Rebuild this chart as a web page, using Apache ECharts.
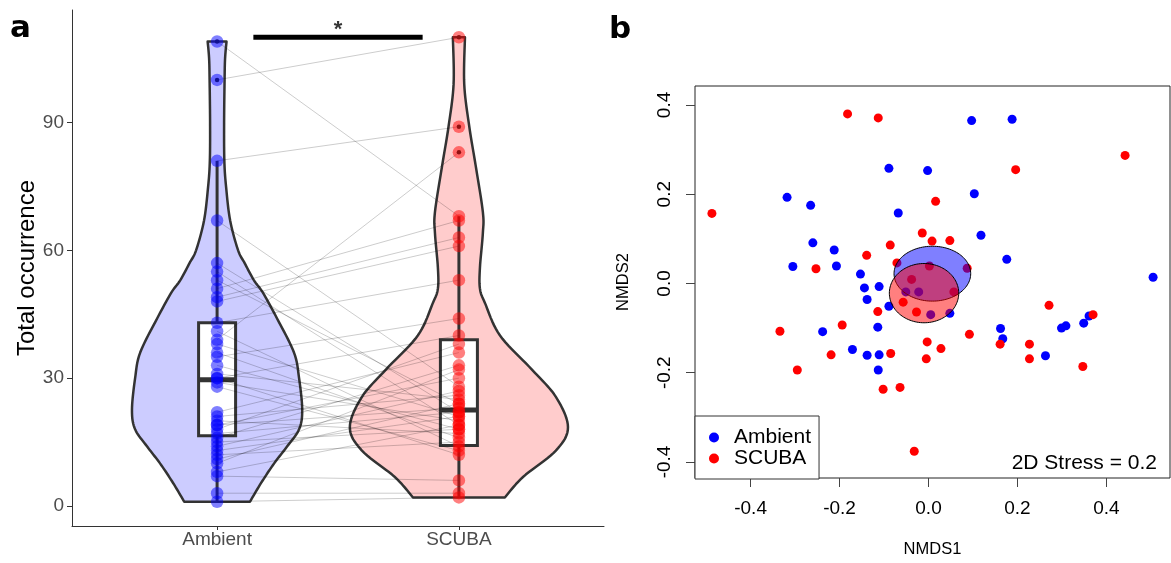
<!DOCTYPE html>
<html><head><meta charset="utf-8">
<script src="https://cdn.jsdelivr.net/npm/echarts@6/dist/echarts.min.js"></script>
<style>html,body{margin:0;padding:0;background:#fff}#c{width:1171px;height:563px}</style>
</head><body><div id="c"></div>
<script>
// ---------- Panel a data ----------
const groups = ['Ambient', 'SCUBA'];
// paired samples (same index = same sample)
const ambient = [109,100,81,39,67,51,49,48,43,57,55,53,41,38,36,35,33,31,30,30,29,28,22,21,20,19,19,18,17,16,15,14,13,12,11,10,8,7,3,1];
const scuba   = [68,110,89,83,28,67,63,61,53,22,19,24,14,21,16,44,18,25,12,40,20,13,36,26,17,30,23,38,22,33,18,27,21,15,24,32,19,6,3,2];
// box stats [lowWhisker, Q1, median, Q3, highWhisker]
const ambientBox = [1, 16.5, 29.6, 43, 81];
const scubaBox   = [2, 14.2, 22.5, 39, 68];
// violin profiles: value levels and half-widths (x units)
const violinAmbientY = [1, 5.4, 10, 14, 18, 22.5, 30, 36, 44, 50, 53, 57, 60, 67, 75, 81, 90, 100, 105, 109];
const violinAmbientW = [0.136,0.182,0.236,0.29,0.339,0.352,0.339,0.318,0.248,0.19,0.152,0.114,0.087,0.054,0.037,0.030,0.029,0.031,0.033,0.039];
const violinScubaY = [2, 6.8, 13, 18.5, 25.6, 32, 40, 47.6, 51, 56, 64, 69, 80, 89, 99, 110];
const violinScubaW = [0.19,0.265,0.401,0.451,0.401,0.302,0.17,0.108,0.087,0.087,0.099,0.099,0.069,0.043,0.022,0.025];
const yTicksA = [0, 30, 60, 90];
const sigBarX = [1.15, 1.85];
const sigBarY = 110;
const sigLabel = '*';

// ---------- Panel b data ----------
const nmdsAmbientX = [-0.089,-0.318,-0.265,-0.068,-0.260,-0.212,-0.305,-0.207,-0.153,-0.144,-0.111,-0.138,-0.089,0.097,0.188,-0.002,0.103,0.118,0.176,0.505,-0.051,-0.022,0.005,0.048,0.361,0.349,0.299,0.309,0.162,0.167,0.263,-0.238,-0.114,-0.171,-0.138,-0.111,-0.113];
const nmdsAmbientY = [0.258,0.193,0.175,0.158,0.091,0.075,0.038,0.039,0.021,-0.010,-0.007,-0.036,-0.051,0.365,0.368,0.253,0.201,0.108,0.054,0.014,-0.019,-0.019,-0.070,-0.067,-0.073,-0.089,-0.100,-0.095,-0.101,-0.124,-0.162,-0.108,-0.098,-0.148,-0.161,-0.160,-0.194];
const nmdsScubaX = [-0.182,-0.113,-0.487,-0.086,-0.139,-0.253,-0.071,0.442,0.196,0.016,-0.014,0.008,0.048,0.271,-0.057,0.002,0.087,-0.038,0.057,-0.027,0.370,0.161,0.092,-0.003,0.028,-0.005,-0.085,-0.102,-0.064,0.227,0.227,0.347,-0.032,-0.114,-0.334,-0.194,-0.219,-0.295];
const nmdsScubaY = [0.380,0.371,0.157,0.086,0.063,0.033,0.046,0.287,0.255,0.184,0.113,0.095,0.096,-0.049,-0.042,0.039,0.034,0.009,-0.019,-0.064,-0.070,-0.136,-0.114,-0.131,-0.146,-0.169,-0.157,-0.237,-0.233,-0.136,-0.169,-0.186,-0.376,-0.063,-0.107,-0.093,-0.160,-0.194];
// ellipses [cx, cy, rx, ry]
const ellipseAmbient = [0.0087, 0.0219, 0.0862, 0.0615];
const ellipseScuba   = [-0.010, -0.0217, 0.078, 0.0664];
const ticksB = [-0.4, -0.2, 0, 0.2, 0.4];
const stressText = '2D Stress = 0.2';

// ---------- helpers ----------
const violinY = [violinAmbientY, violinScubaY];
const violinW = [violinAmbientW, violinScubaW];
const violinFill = ['#ccccff', '#ffcccc'];
const boxStats = [ambientBox, scubaBox];
const boxHalf = 0.0765;
const DARK = '#333333';

function spline(pts, seg) {
  const out = [];
  const n = pts.length;
  for (let i = 0; i < n - 1; i++) {
    const p0 = pts[Math.max(i - 1, 0)], p1 = pts[i], p2 = pts[i + 1], p3 = pts[Math.min(i + 2, n - 1)];
    for (let k = 0; k < seg; k++) {
      const t = k / seg, t2 = t * t, t3 = t2 * t;
      out.push([0, 1].map(j => 0.5 * ((2 * p1[j]) + (-p0[j] + p2[j]) * t + (2 * p0[j] - 5 * p1[j] + 4 * p2[j] - p3[j]) * t2 + (-p0[j] + 3 * p1[j] - 3 * p2[j] + p3[j]) * t3)));
    }
  }
  out.push(pts[n - 1]);
  return out;
}

function violinItem(params, api) {
  const g = params.dataIndex, cx = g + 1;
  const ys = violinY[g], ws = violinW[g];
  const right = ys.map((y, i) => api.coord([cx + ws[i], y]));
  const c = api.coord([cx, 0])[0];
  const r = spline(right, 10);
  const l = r.slice().reverse().map(p => [2 * c - p[0], p[1]]);
  return {type: 'polygon', shape: {points: r.concat(l)}, style: {fill: violinFill[g], stroke: DARK, lineWidth: 2.5, lineJoin: 'round'}};
}

function boxItem(params, api) {
  const g = params.dataIndex, cx = g + 1, b = boxStats[g];
  const pl = api.coord([cx, b[0]]), pq1 = api.coord([cx, b[1]]), pq3 = api.coord([cx, b[3]]), ph = api.coord([cx, b[4]]);
  const tl = api.coord([cx - boxHalf, b[3]]), br = api.coord([cx + boxHalf, b[1]]);
  const ml = api.coord([cx - boxHalf, b[2]]), mr = api.coord([cx + boxHalf, b[2]]);
  const ls = {stroke: DARK, lineWidth: 3};
  return {type: 'group', children: [
    {type: 'line', shape: {x1: pl[0], y1: pl[1], x2: pq1[0], y2: pq1[1]}, style: ls},
    {type: 'line', shape: {x1: pq3[0], y1: pq3[1], x2: ph[0], y2: ph[1]}, style: ls},
    {type: 'rect', shape: {x: tl[0], y: tl[1], width: br[0] - tl[0], height: br[1] - tl[1]}, style: {fill: '#fff', stroke: DARK, lineWidth: 3}},
    {type: 'line', shape: {x1: ml[0], y1: ml[1], x2: mr[0], y2: mr[1]}, style: {stroke: DARK, lineWidth: 5}}
  ]};
}

function pairItem(params, api) {
  const p1 = api.coord([api.value(0), api.value(1)]);
  const p2 = api.coord([api.value(2), api.value(3)]);
  return {type: 'line', shape: {x1: p1[0], y1: p1[1], x2: p2[0], y2: p2[1]}, style: {stroke: 'rgba(0,0,0,0.2)', lineWidth: 1}};
}

const ellipses = [ellipseAmbient, ellipseScuba];
const ellipseFill = ['rgba(0,0,255,0.5)', 'rgba(255,0,0,0.5)'];
function ellipseItem(params, api) {
  const e = ellipses[params.dataIndex];
  const pts = [];
  for (let k = 0; k < 120; k++) {
    const t = k / 120 * Math.PI * 2;
    pts.push(api.coord([e[0] + e[2] * Math.cos(t), e[1] + e[3] * Math.sin(t)]));
  }
  return {type: 'polygon', shape: {points: pts}, style: {fill: ellipseFill[params.dataIndex], stroke: '#000', lineWidth: 1}};
}

const outliers = (vals, b) => vals.filter(v => v > b[4] || v < b[0]);
const outAmb = outliers(ambient, ambientBox).map(v => [1, v]);
const outScu = outliers(scuba, scubaBox).map(v => [2, v]);

const chart = echarts.init(document.getElementById('c'), null, {renderer: 'canvas'});
const FONT = 'Liberation Sans, Arial, sans-serif';
const option = {
  animation: false,
  backgroundColor: '#fff',
  textStyle: {fontFamily: FONT},
  grid: [
    {left: 72, top: 10, width: 532, height: 516},
    {left: 695, top: 86, width: 475, height: 393, show: true, borderColor: '#222', borderWidth: 1, backgroundColor: 'transparent'}
  ],
  xAxis: [
    {gridIndex: 0, type: 'value', min: 0.4, max: 2.6,
      axisLine: {show: true, onZero: false, lineStyle: {color: DARK, width: 1}},
      axisTick: {show: true, customValues: [1, 2], length: 4, lineStyle: {color: DARK}},
      axisLabel: {customValues: [1, 2], formatter: v => groups[Math.round(v) - 1], color: '#4d4d4d', fontSize: 19, margin: 4, fontFamily: FONT},
      splitLine: {show: false}},
    {gridIndex: 1, type: 'value', min: -0.525, max: 0.543,
      axisLine: {show: false, onZero: false},
      axisTick: {show: true, customValues: ticksB, length: 9, lineStyle: {color: '#444'}},
      axisLabel: {customValues: ticksB, formatter: v => v.toFixed(1), color: '#000', fontSize: 19, margin: 21, fontFamily: FONT},
      splitLine: {show: false},
      name: 'NMDS1', nameLocation: 'middle', nameGap: 63, nameTextStyle: {fontSize: 16.5, color: '#000', fontFamily: FONT}}
  ],
  yAxis: [
    {gridIndex: 0, type: 'value', min: -4.7, max: 116.4,
      axisLine: {show: true, onZero: false, lineStyle: {color: DARK, width: 1}},
      axisTick: {show: true, customValues: yTicksA, length: 5, lineStyle: {color: DARK}},
      axisLabel: {customValues: yTicksA, color: '#4d4d4d', fontSize: 19, margin: 8, fontFamily: FONT},
      splitLine: {show: false},
      name: 'Total occurrence', nameLocation: 'middle', nameGap: 32, nameTextStyle: {fontSize: 24, color: '#000', fontFamily: FONT}},
    {gridIndex: 1, type: 'value', min: -0.436, max: 0.4425,
      axisLine: {show: false, onZero: false},
      axisTick: {show: true, customValues: ticksB, length: 9, lineStyle: {color: '#444'}},
      axisLabel: {customValues: ticksB, formatter: v => v.toFixed(1), rotate: 90, color: '#000', fontSize: 19, margin: 21, fontFamily: FONT},
      splitLine: {show: false},
      name: 'NMDS2', nameLocation: 'middle', nameGap: 63, nameTextStyle: {fontSize: 16.5, color: '#000', fontFamily: FONT}}
  ],
  legend: {
    data: [{name: 'Ambient', icon: 'circle'}, {name: 'SCUBA', icon: 'circle'}],
    orient: 'vertical', left: 695, top: 416,
    padding: [11, 8, 10, 14], itemWidth: 30, itemHeight: 10, itemGap: 0,
    borderColor: '#333', borderWidth: 1, backgroundColor: '#fff',
    textStyle: {fontSize: 21, color: '#000', fontFamily: FONT}
  },
  graphic: [
    {type: 'text', x: 10, y: 29, style: {text: 'a', font: 'bold 31px "DejaVu Sans"', fill: '#000', verticalAlign: 'middle'}},
    {type: 'text', x: 609, y: 30, style: {text: 'b', font: 'bold 31px "DejaVu Sans"', fill: '#000', verticalAlign: 'middle'}},
    {type: 'text', x: 1157, y: 463, style: {text: stressText, font: '21px "Liberation Sans"', fill: '#000', align: 'right', verticalAlign: 'middle'}}
  ],
  series: [
    {type: 'custom', name: 'violin', xAxisIndex: 0, yAxisIndex: 0, renderItem: violinItem, data: [[1, 0], [2, 0]], encode: {x: 0, y: 1}, silent: true, z: 1},
    {type: 'custom', name: 'box', xAxisIndex: 0, yAxisIndex: 0, renderItem: boxItem, data: [[1, 0], [2, 0]], encode: {x: 0, y: 1}, silent: true, z: 2},
    {type: 'custom', name: 'pairs', xAxisIndex: 0, yAxisIndex: 0, renderItem: pairItem, data: ambient.map((a, i) => [1, a, 2, scuba[i]]), encode: {x: [0, 2], y: [1, 3]}, silent: true, z: 3},
    {type: 'scatter', name: 'outliers', xAxisIndex: 0, yAxisIndex: 0, data: outAmb.concat(outScu), symbolSize: 4.5, itemStyle: {color: '#222', opacity: 1}, silent: true, z: 3},
    {type: 'scatter', name: 'Ambient pts', xAxisIndex: 0, yAxisIndex: 0, data: ambient.map(v => [1, v]), symbolSize: 12.5, itemStyle: {color: 'rgba(0,0,255,0.5)', opacity: 1}, silent: true, z: 4},
    {type: 'scatter', name: 'SCUBA pts', xAxisIndex: 0, yAxisIndex: 0, data: scuba.map(v => [2, v]), symbolSize: 12.5, itemStyle: {color: 'rgba(255,0,0,0.5)', opacity: 1}, silent: true, z: 4},
    {type: 'line', name: 'sig', xAxisIndex: 0, yAxisIndex: 0, data: sigBarX.map(x => [x, sigBarY]), symbol: 'none', lineStyle: {color: '#000', width: 5}, silent: true, z: 4},
    {type: 'scatter', name: 'sigText', xAxisIndex: 0, yAxisIndex: 0, data: [[(sigBarX[0] + sigBarX[1]) / 2, sigBarY]], symbolSize: 0,
      label: {show: true, formatter: sigLabel, position: 'top', distance: -4, fontSize: 22, fontWeight: 'bold', color: '#000', fontFamily: FONT}, silent: true, z: 4},
    {type: 'scatter', name: 'Ambient', xAxisIndex: 1, yAxisIndex: 1, data: nmdsAmbientX.map((x, i) => [x, nmdsAmbientY[i]]), symbolSize: 9, itemStyle: {color: '#0000ff', opacity: 1}, silent: true, z: 3},
    {type: 'scatter', name: 'SCUBA', xAxisIndex: 1, yAxisIndex: 1, data: nmdsScubaX.map((x, i) => [x, nmdsScubaY[i]]), symbolSize: 9, itemStyle: {color: '#ff0000', opacity: 1}, silent: true, z: 3},
    {type: 'custom', name: 'ellipses', xAxisIndex: 1, yAxisIndex: 1, renderItem: ellipseItem, data: ellipses.map(e => [e[0], e[1]]), encode: {x: 0, y: 1}, silent: true, z: 5}
  ]
};
chart.setOption(option);
</script>
</body></html>
